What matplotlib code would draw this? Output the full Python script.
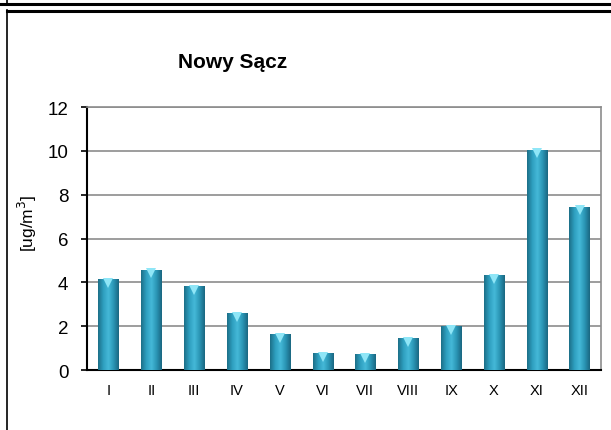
import numpy as np
import matplotlib
matplotlib.use("Agg")
import matplotlib.pyplot as plt
from matplotlib.lines import Line2D

miesiace = ['I', 'II', 'III', 'IV', 'V', 'VI', 'VII', 'VIII', 'IX', 'X', 'XI', 'XII']
stezenie = [4.14, 4.58, 3.84, 2.59, 1.65, 0.76, 0.72, 1.47, 2.0, 4.33, 10.05, 7.46]

plt.rcParams['font.family'] = ['Liberation Sans', 'DejaVu Sans']

fig = plt.figure(figsize=(6.11, 4.31), dpi=100)
ax = fig.add_axes([0.1424, 0.1392, 0.8412, 0.6102])

x = np.arange(len(miesiace))
szer = 0.47
slupki = ax.bar(x, stezenie, width=szer, color='#2b9dbb', zorder=2)

# cieniowanie walcowe slupkow
grad = np.linspace(0, 1, 64)
cmap = matplotlib.colors.LinearSegmentedColormap.from_list(
    'walec', ['#1c6f88', '#2e9fbf', '#45b9d8', '#2a96b5', '#1a6781'])
for b in slupki:
    x0, w, h = b.get_x(), b.get_width(), b.get_height()
    im = ax.imshow(grad[np.newaxis, :], cmap=cmap, aspect='auto',
                   extent=[x0, x0 + w, 0, h], zorder=3)
    im.set_clip_path(b)

# jasne trojkaty na szczytach
ax.plot(x, np.array(stezenie) - 0.17, linestyle='none', marker='v',
        markersize=7, color='#8fe6f7', markeredgewidth=0, zorder=4)

ax.set_xlim(-0.5, len(miesiace) - 0.5)
ax.set_ylim(0, 12)
ax.set_yticks(range(0, 13, 2))
ax.set_xticks(x)
ax.set_xticklabels(miesiace, fontsize=10.5)
ax.tick_params(axis='x', length=0, pad=9)
ax.tick_params(axis='y', labelsize=13.5, length=4, width=1.2, direction='out', pad=9.5)
ax.grid(axis='y', color='#8c8c8c', linewidth=1.2, zorder=0)
ax.set_axisbelow(True)

for s in ['top', 'right']:
    ax.spines[s].set_color('#8c8c8c')
    ax.spines[s].set_linewidth(1.2)
for s in ['left', 'bottom']:
    ax.spines[s].set_color('black')
    ax.spines[s].set_linewidth(1.5)

ax.set_ylabel('[ug/m$^3$]', fontsize=12.5)
ax.yaxis.set_label_coords(-0.093, 0.563)
fig.text(0.38, 0.856, 'Nowy Sącz', fontsize=15, fontweight='bold',
         ha='center', va='center')

# ramki
fig.add_artist(Line2D([0, 1], [1 - 4.5 / 431, 1 - 4.5 / 431], color='black', linewidth=2.2))
fig.add_artist(Line2D([7.5 / 611, 7.5 / 611], [1 - 4 / 431, 1], color='black', linewidth=1.2))
fig.add_artist(Line2D([0.012, 1], [1 - 11.5 / 431, 1 - 11.5 / 431], color='black', linewidth=2.2))
fig.add_artist(Line2D([7.5 / 611, 7.5 / 611], [0, 1 - 11 / 431], color='black', linewidth=1.2))

fig.savefig('out.png', dpi=100)
